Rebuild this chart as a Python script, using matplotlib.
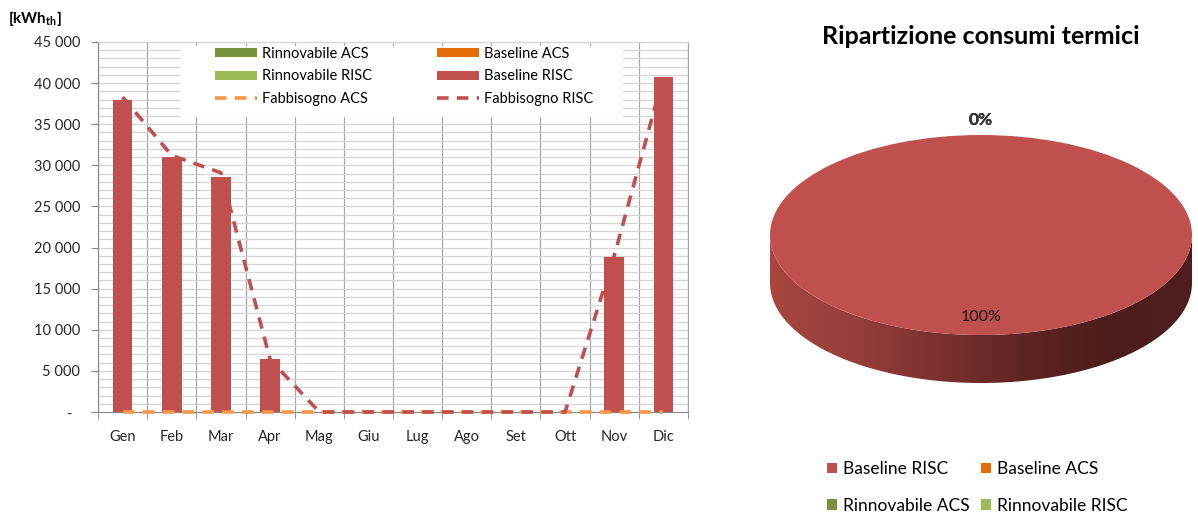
import matplotlib
matplotlib.use("Agg")
import matplotlib.pyplot as plt
import numpy as np
from matplotlib.ticker import MultipleLocator, FuncFormatter, FixedLocator
from matplotlib.patches import Polygon, Rectangle
from matplotlib.colors import LinearSegmentedColormap

# ---------------- data ----------------
months = ["Gen", "Feb", "Mar", "Apr", "Mag", "Giu", "Lug", "Ago", "Set", "Ott", "Nov", "Dic"]
rinnovabile_acs = [0, 0, 0, 0, 0, 0, 0, 0, 0, 0, 0, 0]
rinnovabile_risc = [0, 0, 0, 0, 0, 0, 0, 0, 0, 0, 0, 0]
baseline_acs = [0, 0, 0, 0, 0, 0, 0, 0, 0, 0, 0, 0]
baseline_risc = [38000, 31000, 28600, 6400, 0, 0, 0, 0, 0, 0, 18900, 40800]
fabbisogno_acs = [0, 0, 0, 0, 0, 0, 0, 0, 0, 0, 0, 0]
fabbisogno_risc = [38300, 31200, 29100, 6400, 0, 0, 0, 0, 0, 0, 19000, 40800]

pie_labels = ["Baseline RISC", "Baseline ACS", "Rinnovabile ACS", "Rinnovabile RISC"]
pie_values = [sum(baseline_risc), sum(baseline_acs), sum(rinnovabile_acs), sum(rinnovabile_risc)]

col_rin_acs = "#77933C"
col_rin_risc = "#9BBB59"
col_base_acs = "#E36C09"
col_base_risc = "#C0504D"
col_fab_acs = "#F79646"
col_fab_risc = "#C0504D"

plt.rcParams["font.family"] = ["Lato", "DejaVu Sans"]
plt.rcParams["mathtext.fontset"] = "custom"
plt.rcParams["mathtext.rm"] = "Lato"
plt.rcParams["mathtext.bf"] = "Lato:bold"

W, H = 1198, 516
fig = plt.figure(figsize=(W / 100, H / 100), dpi=100)

# ---------------- bar chart ----------------
L, R, T, B = 98, 688, 42, 412
ax = fig.add_axes([L / W, (H - B) / H, (R - L) / W, (B - T) / H])
x = np.arange(len(months))
bw = 0.4
bottom = np.zeros(len(months))
series = [
    ("Rinnovabile ACS", rinnovabile_acs, col_rin_acs),
    ("Rinnovabile RISC", rinnovabile_risc, col_rin_risc),
    ("Baseline ACS", baseline_acs, col_base_acs),
    ("Baseline RISC", baseline_risc, col_base_risc),
]
bars = {}
for name, vals, c in series:
    vals = np.array(vals, dtype=float)
    bars[name] = ax.bar(x, vals, bw, bottom=bottom, color=c, zorder=3, label=name)
    bottom += vals

ln_acs, = ax.plot(x, fabbisogno_acs, color=col_fab_acs, lw=2.6, dashes=(3.2, 2.3),
                  zorder=4, clip_on=False, label="Fabbisogno ACS")
ln_risc, = ax.plot(x, fabbisogno_risc, color=col_fab_risc, lw=2.6, dashes=(3.2, 2.3),
                   zorder=5, clip_on=False, label="Fabbisogno RISC")

ax.set_xlim(-0.5, len(months) - 0.5)
ax.set_ylim(0, 45000)
ax.yaxis.set_major_locator(MultipleLocator(5000))
ax.yaxis.set_minor_locator(MultipleLocator(1000))
ax.yaxis.set_major_formatter(FuncFormatter(
    lambda v, p: "-  " if v == 0 else f"{int(v):,}".replace(",", " ")))
ax.set_xticks(x)
ax.set_xticklabels(months)
ax.xaxis.set_minor_locator(FixedLocator(np.arange(-0.5, len(months), 1.0)))
ax.tick_params(axis="x", which="major", length=0, pad=13, labelsize=10.5, labelcolor="#262626")
ax.tick_params(axis="x", which="minor", length=5, color="#868686", direction="out")
ax.tick_params(axis="y", which="major", length=5, color="#868686", labelsize=10.5,
               labelcolor="#262626", pad=8)
ax.tick_params(axis="y", which="minor", length=0)
ax.grid(True, axis="y", which="both", color="#d4d4d4", lw=0.9, zorder=0)
ax.grid(True, axis="x", which="minor", color="#a6a6a6", lw=0.9, zorder=0)
ax.set_axisbelow(True)
ax.spines["top"].set_color("#d4d4d4")
ax.spines["right"].set_color("#a6a6a6")
ax.spines["left"].set_color("#868686")
ax.spines["bottom"].set_color("#868686")

# white legend background area (covers gridlines like the original)
def ax_x(px):
    return (px - L) / (R - L)

def ax_y(py):
    return (B - py) / (B - T)

ax.add_patch(Rectangle((ax_x(181), ax_y(117)), ax_x(623) - ax_x(181), ax_y(46) - ax_y(117),
                       transform=ax.transAxes, facecolor="white", edgecolor="none", zorder=2))

handles = [bars["Rinnovabile ACS"], bars["Rinnovabile RISC"], ln_acs,
           bars["Baseline ACS"], bars["Baseline RISC"], ln_risc]
labels = ["Rinnovabile ACS", "Rinnovabile RISC", "Fabbisogno ACS",
          "Baseline ACS", "Baseline RISC", "Fabbisogno RISC"]
leg = ax.legend(handles, labels, ncol=2, loc="upper left",
                bbox_to_anchor=(ax_x(215), ax_y(47)),
                frameon=False, fontsize=10.5,
                handlelength=2.9, handleheight=0.55, handletextpad=0.35,
                labelspacing=0.58, borderpad=0, borderaxespad=0, columnspacing=4.4)
leg.set_zorder(10)

fig.text(8 / W, 1 - 18 / H, r"[kWh$_{\mathbf{th}}$]", fontsize=11, fontweight="bold",
         ha="left", va="center", color="#000000")

# ---------------- 3D-like pie ----------------
cx, cy = 981, 235   # pixel center (from top)
a, b = 211, 100     # semi-axes in pixels
depth = 48 / b
ax2 = fig.add_axes([0.6, 0, 0.4, 1])
x0 = 0.6 * W
ax2.set_zorder(-1)

wedges, texts, autotexts = ax2.pie(
    pie_values, colors=[col_base_risc, col_base_acs, col_rin_acs, col_rin_risc],
    startangle=90, counterclock=False, autopct="%1.0f%%", pctdistance=0.82,
    wedgeprops=dict(linewidth=0), textprops=dict(fontsize=11.5, color="#1a1a1a"))
ax2.set_aspect("auto")
ax2.set_xlim((x0 - cx) / a, (W - cx) / a)
ax2.set_ylim((0 - (H - cy)) / b, (H - (H - cy)) / b)
ax2.axis("off")
for w in wedges:
    w.set_zorder(3)
for v, t in zip(pie_values, autotexts):
    t.set_zorder(5)
    if v == 0:
        px, py = t.get_position()
        t.set_position((px, py * 1.17 / 0.82 - 0.02))
        t.set_color("#333333")
        t.set_fontweight("bold")
        t.set_fontsize(12.5)

# side band with gradient
tt = np.linspace(np.pi, 2 * np.pi, 200)
top_edge = np.column_stack([np.cos(tt), np.sin(tt)])
bot_edge = np.column_stack([np.cos(tt[::-1]), np.sin(tt[::-1]) - depth])
side = Polygon(np.vstack([top_edge, bot_edge]), closed=True, facecolor="none",
               edgecolor="none", transform=ax2.transData)
ax2.add_patch(side)
cmap = LinearSegmentedColormap.from_list(
    "side", ["#A8463F", "#963E3B", "#7A312F", "#5E2423", "#4C1D1C", "#4E1F1E"])
grad = np.linspace(0, 1, 256).reshape(1, -1)
im = ax2.imshow(grad, cmap=cmap, extent=(-1, 1, -1 - depth, 0), aspect="auto",
                zorder=1, interpolation="bilinear")
im.set_clip_path(side)

fig.text(cx / W, 1 - 37 / H, "Ripartizione consumi termici", fontsize=18,
         fontweight="bold", ha="center", va="center", color="#000000")

order = [0, 2, 1, 3]
fig.legend([wedges[i] for i in order], [pie_labels[i] for i in order], ncol=2,
           loc="upper left", bbox_to_anchor=(827 / W, 1 - 461 / H), frameon=False,
           fontsize=12.5, handlelength=0.55, handleheight=0.55, handletextpad=0.35,
           labelspacing=1.2, columnspacing=0.7, borderpad=0, borderaxespad=0)

fig.savefig("out.png", dpi=100)
